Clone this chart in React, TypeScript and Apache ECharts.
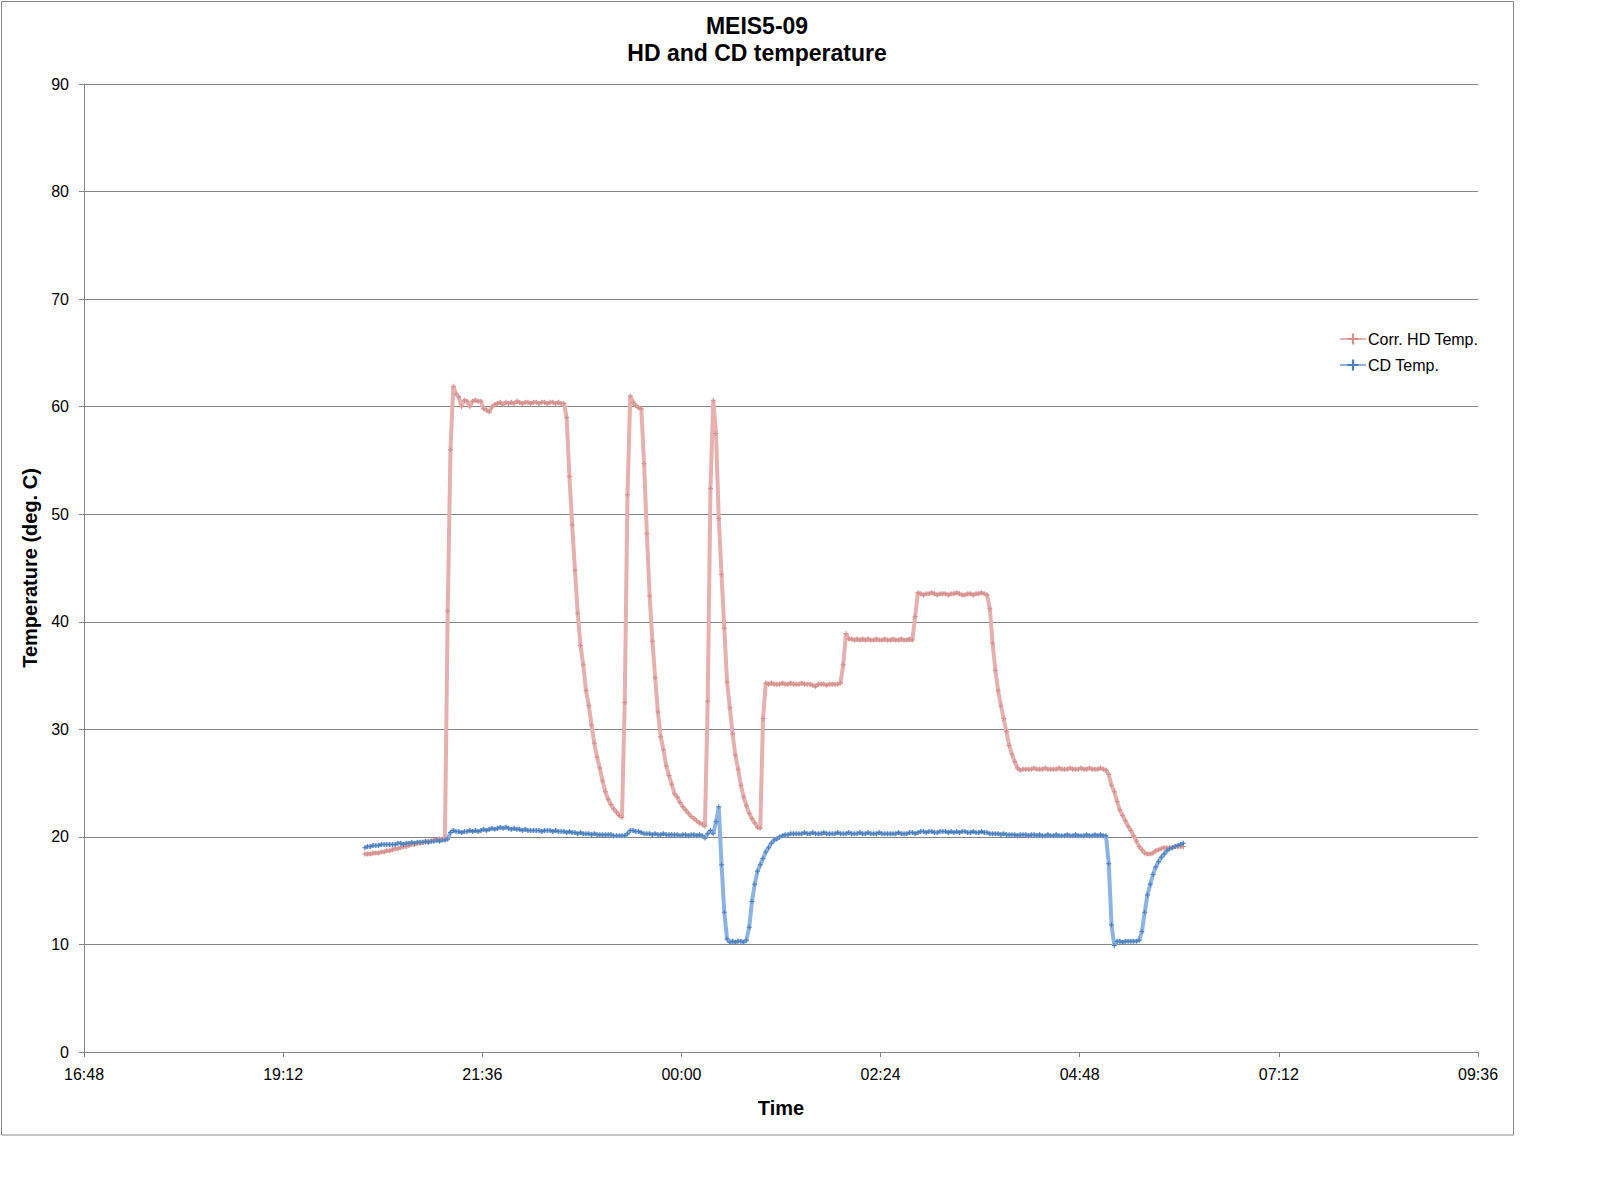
import { useEffect, useRef } from 'react';
import * as echarts from 'echarts';

// sampling of the logger traces, minutes after midnight (20:11), every 2 min
const START_MIN = 1211;
const STEP_MIN = 2;

// x axis: 16:48 .. 09:36 (next day), ticks every 2:24
const X_MIN = 1008;
const X_MAX = 2016;
const X_STEP = 144;

const Y_MIN = 0;
const Y_MAX = 90;
const Y_STEP = 10;

const SERIES_NAMES = ['Corr. HD Temp.', 'CD Temp.'];

const HD_TEMP = [
  18.4, 18.4, 18.4, 18.5, 18.5, 18.5, 18.6, 18.6, 18.7, 18.7,
  18.8, 18.9, 18.9, 19.0, 19.1, 19.1, 19.2, 19.3, 19.3, 19.4,
  19.4, 19.5, 19.5, 19.6, 19.6, 19.7, 19.7, 19.8, 19.8, 19.9,
  41.0, 56.0, 61.9, 61.2, 60.9, 60.0, 60.6, 60.5, 60.0, 60.5,
  60.6, 60.5, 60.5, 59.8, 59.7, 59.5, 60.0, 60.2, 60.3, 60.4,
  60.2, 60.4, 60.3, 60.4, 60.3, 60.5, 60.4, 60.3, 60.4, 60.4,
  60.3, 60.4, 60.4, 60.3, 60.4, 60.4, 60.3, 60.4, 60.4, 60.3,
  60.4, 60.3, 60.3, 59.0, 53.5, 49.0, 44.8, 40.8, 37.8, 36.0,
  33.6, 32.2, 30.4, 28.7, 27.4, 26.4, 25.2, 24.2, 23.5, 23.0,
  22.6, 22.3, 22.0, 21.8, 32.5, 51.8, 61.0, 60.4, 60.1, 59.9,
  59.8, 54.7, 48.2, 42.4, 38.2, 34.8, 31.6, 29.3, 28.1, 26.6,
  25.7, 24.9, 24.0, 23.7, 23.2, 22.8, 22.5, 22.2, 21.9, 21.7,
  21.5, 21.3, 21.2, 21.0, 32.6, 52.4, 60.6, 57.5, 49.6, 44.4,
  39.4, 34.4, 32.0, 29.6, 27.6, 26.3, 24.8, 23.7, 22.9, 22.2,
  21.7, 21.3, 20.9, 20.8, 31.0, 34.3, 34.2, 34.3, 34.2, 34.2,
  34.2, 34.3, 34.2, 34.2, 34.3, 34.2, 34.2, 34.2, 34.3, 34.2,
  34.2, 34.2, 34.1, 34.0, 34.2, 34.2, 34.2, 34.1, 34.2, 34.2,
  34.2, 34.2, 34.3, 36.0, 38.9, 38.4, 38.4, 38.3, 38.4, 38.3,
  38.4, 38.3, 38.4, 38.3, 38.3, 38.4, 38.3, 38.3, 38.4, 38.3,
  38.3, 38.4, 38.3, 38.3, 38.4, 38.3, 38.3, 38.4, 38.3, 40.5,
  42.7, 42.6, 42.5, 42.6, 42.6, 42.7, 42.6, 42.5, 42.6, 42.6,
  42.6, 42.5, 42.6, 42.6, 42.7, 42.6, 42.5, 42.5, 42.6, 42.6,
  42.5, 42.6, 42.6, 42.7, 42.6, 42.5, 41.2, 38.0, 35.5, 33.6,
  32.2, 31.0, 29.8, 28.5, 27.7, 27.0, 26.4, 26.2, 26.3, 26.3,
  26.3, 26.3, 26.4, 26.3, 26.3, 26.3, 26.4, 26.3, 26.3, 26.3,
  26.3, 26.4, 26.3, 26.3, 26.3, 26.4, 26.3, 26.3, 26.3, 26.4,
  26.3, 26.3, 26.4, 26.3, 26.3, 26.3, 26.4, 26.3, 26.2, 25.8,
  24.8, 24.2, 23.3, 22.5, 22.0, 21.5, 21.0, 20.6, 20.1, 19.6,
  19.1, 18.8, 18.5, 18.4, 18.4, 18.5, 18.7, 18.8, 18.9, 19.0,
  19.0, 19.0, 19.0, 19.1, 19.1, 19.1, 19.1,
];

const CD_TEMP = [
  19.0, 19.1, 19.1, 19.2, 19.2, 19.2, 19.3, 19.3, 19.3, 19.3,
  19.3, 19.3, 19.4, 19.4, 19.3, 19.4, 19.4, 19.5, 19.4, 19.5,
  19.5, 19.5, 19.6, 19.5, 19.6, 19.6, 19.7, 19.6, 19.7, 19.7,
  19.8, 20.4, 20.6, 20.5, 20.5, 20.4, 20.5, 20.5, 20.6, 20.5,
  20.6, 20.5, 20.6, 20.7, 20.6, 20.7, 20.8, 20.7, 20.8, 20.9,
  20.8, 20.9, 20.8, 20.7, 20.8, 20.7, 20.7, 20.6, 20.7, 20.6,
  20.6, 20.6, 20.6, 20.6, 20.5, 20.6, 20.6, 20.6, 20.5, 20.6,
  20.5, 20.5, 20.5, 20.4, 20.5, 20.4, 20.4, 20.3, 20.4, 20.3,
  20.3, 20.3, 20.2, 20.3, 20.2, 20.2, 20.2, 20.2, 20.2, 20.2,
  20.1, 20.1, 20.1, 20.1, 20.1, 20.3, 20.6, 20.6, 20.5, 20.5,
  20.4, 20.3, 20.3, 20.3, 20.2, 20.3, 20.2, 20.2, 20.3, 20.2,
  20.2, 20.2, 20.2, 20.2, 20.1, 20.2, 20.2, 20.1, 20.2, 20.2,
  20.1, 20.2, 20.1, 19.9, 20.3, 20.6, 20.3, 21.4, 22.8, 17.4,
  13.0, 10.5, 10.2, 10.3, 10.2, 10.3, 10.3, 10.2, 10.4, 11.6,
  14.0, 15.6, 16.8, 17.4, 18.0, 18.6, 19.0, 19.4, 19.7, 19.8,
  20.0, 20.1, 20.2, 20.2, 20.3, 20.3, 20.3, 20.3, 20.3, 20.4,
  20.3, 20.3, 20.4, 20.3, 20.3, 20.3, 20.4, 20.3, 20.3, 20.3,
  20.3, 20.4, 20.3, 20.3, 20.3, 20.4, 20.3, 20.3, 20.3, 20.4,
  20.3, 20.3, 20.4, 20.3, 20.3, 20.3, 20.4, 20.3, 20.3, 20.3,
  20.3, 20.3, 20.3, 20.4, 20.3, 20.3, 20.3, 20.4, 20.4, 20.3,
  20.4, 20.5, 20.5, 20.4, 20.5, 20.5, 20.4, 20.4, 20.5, 20.5,
  20.5, 20.4, 20.5, 20.4, 20.5, 20.4, 20.5, 20.5, 20.4, 20.4,
  20.5, 20.4, 20.4, 20.5, 20.4, 20.4, 20.3, 20.3, 20.3, 20.3,
  20.2, 20.3, 20.2, 20.2, 20.2, 20.2, 20.1, 20.2, 20.2, 20.2,
  20.1, 20.2, 20.2, 20.1, 20.2, 20.1, 20.1, 20.2, 20.1, 20.1,
  20.2, 20.1, 20.1, 20.1, 20.2, 20.1, 20.1, 20.2, 20.1, 20.1,
  20.1, 20.2, 20.1, 20.1, 20.2, 20.1, 20.2, 20.1, 20.1, 17.5,
  11.8, 9.9, 10.3, 10.3, 10.2, 10.3, 10.3, 10.3, 10.3, 10.3,
  10.4, 11.2, 13.0, 14.6, 15.6, 16.5, 17.2, 17.7, 18.1, 18.4,
  18.7, 18.9, 19.0, 19.1, 19.2, 19.3, 19.4,
];

const FONT = '"Liberation Sans", Arial, sans-serif';
const GRID_COLOR = '#868686';
const PLUS = 'path://M2,0H3V2H5V3H3V5H2V3H0V2H2Z';

// minutes after midnight -> hh:mm (wraps past midnight)
const clock = (v: number) => {
  const m = ((Math.round(v) % 1440) + 1440) % 1440;
  const hh = String(Math.floor(m / 60)).padStart(2, '0');
  const mm = String(m % 60).padStart(2, '0');
  return `${hh}:${mm}`;
};

const toPairs = (vals: number[]) => vals.map((v, i) => [START_MIN + i * STEP_MIN, v]);

function App() {
  const chartRef = useRef<HTMLDivElement>(null);

  useEffect(() => {
    if (!chartRef.current) return;
    const chart = echarts.init(chartRef.current, undefined, { renderer: 'svg' });

    chart.setOption({
      animation: false,
      backgroundColor: '#ffffff',
      textStyle: { fontFamily: FONT },
      grid: { left: 84, top: 84, right: 120, bottom: 150 },
      graphic: [
        {
          type: 'rect',
          shape: { x: 1.5, y: 1.5, width: 1512, height: 1133.5 },
          style: { fill: 'none', stroke: GRID_COLOR, lineWidth: 1 },
          silent: true,
        },
        {
          type: 'text',
          x: 757,
          y: 25.5,
          style: {
            text: 'MEIS5-09',
            font: `bold 23px ${FONT}`,
            fill: '#000',
            textAlign: 'center',
            textVerticalAlign: 'middle',
          },
        },
        {
          type: 'text',
          x: 757,
          y: 53,
          style: {
            text: 'HD and CD temperature',
            font: `bold 23px ${FONT}`,
            fill: '#000',
            textAlign: 'center',
            textVerticalAlign: 'middle',
          },
        },
      ],
      legend: {
        orient: 'vertical',
        left: 1334,
        top: 326,
        padding: 5,
        itemWidth: 26,
        itemHeight: 14,
        itemGap: 10,
        textStyle: { fontSize: 16, color: '#000', fontFamily: FONT, padding: [0, 0, 0, -3] },
        data: SERIES_NAMES,
      },
      xAxis: {
        type: 'value',
        min: X_MIN,
        max: X_MAX,
        interval: X_STEP,
        name: 'Time',
        nameLocation: 'middle',
        nameGap: 46,
        nameTextStyle: { fontSize: 20, fontWeight: 'bold', color: '#000', fontFamily: FONT },
        axisLine: { show: true, lineStyle: { color: GRID_COLOR, width: 1 } },
        axisTick: { show: true, length: 5, lineStyle: { color: GRID_COLOR } },
        axisLabel: { formatter: clock, fontSize: 16, color: '#000', margin: 14 },
        splitLine: { show: false },
      },
      yAxis: {
        type: 'value',
        min: Y_MIN,
        max: Y_MAX,
        interval: Y_STEP,
        name: 'Temperature (deg. C)',
        nameLocation: 'middle',
        nameGap: 40,
        nameTextStyle: { fontSize: 20, fontWeight: 'bold', color: '#000', fontFamily: FONT },
        axisLine: { show: true, lineStyle: { color: GRID_COLOR, width: 1 } },
        axisTick: { show: true, length: 5, lineStyle: { color: GRID_COLOR } },
        axisLabel: { fontSize: 16, color: '#000', margin: 15 },
        splitLine: { show: true, lineStyle: { color: GRID_COLOR, width: 1 } },
      },
      series: [
        {
          name: SERIES_NAMES[0],
          type: 'line',
          data: toPairs(HD_TEMP),
          symbol: PLUS,
          symbolSize: 5,
          showAllSymbol: true,
          lineStyle: { color: '#E6B0AE', width: 4 },
          itemStyle: { color: '#D48E8C' },
          emphasis: { disabled: true },
        },
        {
          name: SERIES_NAMES[1],
          type: 'line',
          data: toPairs(CD_TEMP),
          symbol: PLUS,
          symbolSize: 5,
          showAllSymbol: true,
          lineStyle: { color: '#8DB3E2', width: 4 },
          itemStyle: { color: '#4A7EBB' },
          emphasis: { disabled: true },
        },
      ],
    });

    return () => {
      chart.dispose();
    };
  }, []);

  return (
    <div
      ref={chartRef}
      style={{ position: 'absolute', left: 0, top: 0, width: 1598, height: 1202 }}
    />
  );
}

export default App;
